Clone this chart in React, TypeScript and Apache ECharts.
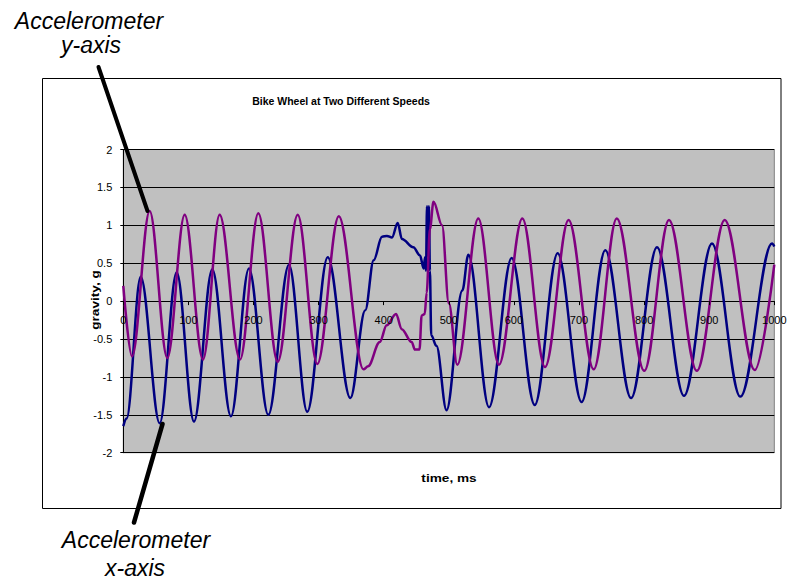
import React, { useEffect, useRef } from "react";
import * as echarts from "echarts";

const titleText = "Bike Wheel at Two Different Speeds";
const xAxisName = "time, ms";
const yAxisName = "gravity, g";

// Accelerometer x-axis (navy)
const accelXTime = [0, 5, 26.7, 55.9, 82, 108.6, 136.7, 165.4, 193, 222.7, 254.5, 282.6, 314, 348.8, 371.7, 384.6, 397.4, 405, 412.7, 421.5, 428, 445.5, 455.8, 461.4, 463.5, 465, 466.5, 468, 469.5, 471, 473, 481, 496.5, 520.8, 530, 561.8, 596.6, 632, 667.2, 704, 740.4, 780, 819.8, 861.3, 904.3, 947.8, 996.5, 1000];
const accelXG = [-1.65, -1.55, 0.32, -1.61, 0.38, -1.59, 0.42, -1.52, 0.43, -1.5, 0.48, -1.46, 0.58, -1.28, -0.12, 0.54, 0.85, 0.86, 0.84, 1.03, 0.82, 0.71, 0.6, 0.43, 0.58, 0.4, 1.25, 0.6, 1.25, 0.4, -0.45, -0.59, -1.44, 0.14, 0.61, -1.4, 0.57, -1.37, 0.63, -1.33, 0.67, -1.28, 0.71, -1.25, 0.76, -1.26, 0.76, 0.72];

// Accelerometer y-axis (purple)
const accelYTime = [0, 13.4, 40.5, 67.6, 94.3, 122.4, 148, 179.3, 207.4, 237.2, 267.9, 298, 331, 369, 376, 394, 404.6, 419, 427.6, 443, 448, 455, 458.3, 463, 466, 471, 476.5, 489.6, 500, 513, 545.3, 577, 613, 647.8, 684, 722.6, 758, 800.3, 838.2, 881, 923.8, 970, 1000];
const accelYG = [0.2, -0.73, 1.19, -0.75, 1.14, -0.77, 1.14, -0.77, 1.16, -0.8, 1.14, -0.83, 1.12, -0.9, -0.86, -0.54, -0.32, -0.17, -0.37, -0.54, -0.64, -0.64, -0.19, -0.17, 0.11, 0.95, 1.31, 1.0, -0.03, -0.84, 1.09, -0.84, 1.09, -0.87, 1.07, -0.9, 1.09, -0.92, 1.07, -0.92, 1.07, -0.91, 0.48];

const FONT = "Arial, 'Liberation Sans', sans-serif";

const GRID_LEFT = 123.3;
const GRID_RIGHT_X = 774.3;
const GRID_TOP = 149.5;
const GRID_BOTTOM_Y = 452.7;
const Y_MIN = -2;
const Y_MAX = 2;

export default function App() {
  const ref = useRef<HTMLDivElement>(null);
  useEffect(() => {
    if (!ref.current) return;
    const chart = echarts.init(ref.current, null, { renderer: "svg" });
    const dataX = accelXTime.map((t, i) => [t, accelXG[i]]);
    const dataY = accelYTime.map((t, i) => [t, accelYG[i]]);
    // place the x axis where the value axis crosses zero
    const zeroY = GRID_TOP + ((Y_MAX - 0) / (Y_MAX - Y_MIN)) * (GRID_BOTTOM_Y - GRID_TOP);
    chart.setOption({
      animation: false,
      backgroundColor: "#ffffff",
      grid: {
        left: GRID_LEFT,
        right: 794 - GRID_RIGHT_X,
        top: GRID_TOP,
        bottom: 580 - GRID_BOTTOM_Y,
        show: true,
        backgroundColor: "#C0C0C0",
        borderColor: "#808080",
        borderWidth: 1,
      },
      xAxis: {
        type: "value",
        min: 0,
        max: 1000,
        interval: 100,
        z: 10,
        offset: -(GRID_BOTTOM_Y - zeroY),
        axisLine: { show: false, onZero: false },
        axisTick: { show: true, length: 4, lineStyle: { color: "#000" } },
        splitLine: { show: false },
        axisLabel: {
          color: "#000",
          fontSize: 11,
          fontFamily: FONT,
          margin: 13,
          formatter: (v: number) => String(v),
        },
      },
      yAxis: {
        type: "value",
        min: Y_MIN,
        max: Y_MAX,
        interval: 0.5,
        axisLine: { show: true, onZero: false, lineStyle: { color: "#000", width: 1 } },
        axisTick: { show: true, length: 3, lineStyle: { color: "#000" } },
        splitLine: { show: true, lineStyle: { color: "#000", width: 1 } },
        axisLabel: {
          color: "#000",
          fontSize: 11,
          fontFamily: FONT,
          margin: 11,
          formatter: (v: number) => String(v),
        },
      },
      series: [
        {
          name: "Accelerometer x-axis",
          type: "line",
          data: dataX,
          showSymbol: false,
          smooth: 0.35,
          smoothMonotone: "x",
          lineStyle: { color: "#000080", width: 2.5 },
          z: 3,
        },
        {
          name: "Accelerometer y-axis",
          type: "line",
          data: dataY,
          showSymbol: false,
          smooth: 0.35,
          smoothMonotone: "x",
          lineStyle: { color: "#800080", width: 2.5 },
          z: 4,
        },
      ],
      graphic: [
        {
          type: "rect",
          shape: { x: 42.5, y: 78.5, width: 738.5, height: 430 },
          style: { fill: "none", stroke: "#000", lineWidth: 1 },
          z: 50,
          silent: true,
        },
        {
          type: "text",
          x: 341,
          y: 101,
          style: { text: titleText, font: `bold 10.5px ${FONT}`, fill: "#000", textAlign: "center", textVerticalAlign: "middle" },
          z: 60,
        },
        {
          type: "text",
          x: 96,
          y: 300,
          rotation: Math.PI / 2,
          scaleX: 1.3,
          style: { text: yAxisName, font: `bold 10.5px ${FONT}`, fill: "#000", textAlign: "center", textVerticalAlign: "middle" },
          z: 60,
        },
        {
          type: "text",
          x: 449,
          y: 479,
          scaleX: 1.3,
          style: { text: xAxisName, font: `bold 10.5px ${FONT}`, fill: "#000", textAlign: "center", textVerticalAlign: "middle" },
          z: 60,
        },
        {
          type: "line",
          shape: { x1: 98.5, y1: 67, x2: 147.5, y2: 211 },
          style: { stroke: "#000", lineWidth: 4, lineCap: "round" },
          z: 100,
        },
        {
          type: "line",
          shape: { x1: 162.5, y1: 424, x2: 134, y2: 522.5 },
          style: { stroke: "#000", lineWidth: 4.5, lineCap: "round" },
          z: 100,
        },
        {
          type: "text",
          x: 89,
          y: 21,
          style: { text: "Accelerometer", font: `italic 23px ${FONT}`, fill: "#000", textAlign: "center", textVerticalAlign: "middle" },
          z: 60,
        },
        {
          type: "text",
          x: 91,
          y: 45,
          style: { text: "y-axis", font: `italic 23px ${FONT}`, fill: "#000", textAlign: "center", textVerticalAlign: "middle" },
          z: 60,
        },
        {
          type: "text",
          x: 136,
          y: 540,
          style: { text: "Accelerometer", font: `italic 23px ${FONT}`, fill: "#000", textAlign: "center", textVerticalAlign: "middle" },
          z: 60,
        },
        {
          type: "text",
          x: 135,
          y: 568,
          style: { text: "x-axis", font: `italic 23px ${FONT}`, fill: "#000", textAlign: "center", textVerticalAlign: "middle" },
          z: 60,
        },
      ],
    });
    return () => chart.dispose();
  }, []);
  return (
    <div
      ref={ref}
      style={{ position: "absolute", left: 0, top: 0, width: 794, height: 580 }}
    />
  );
}
